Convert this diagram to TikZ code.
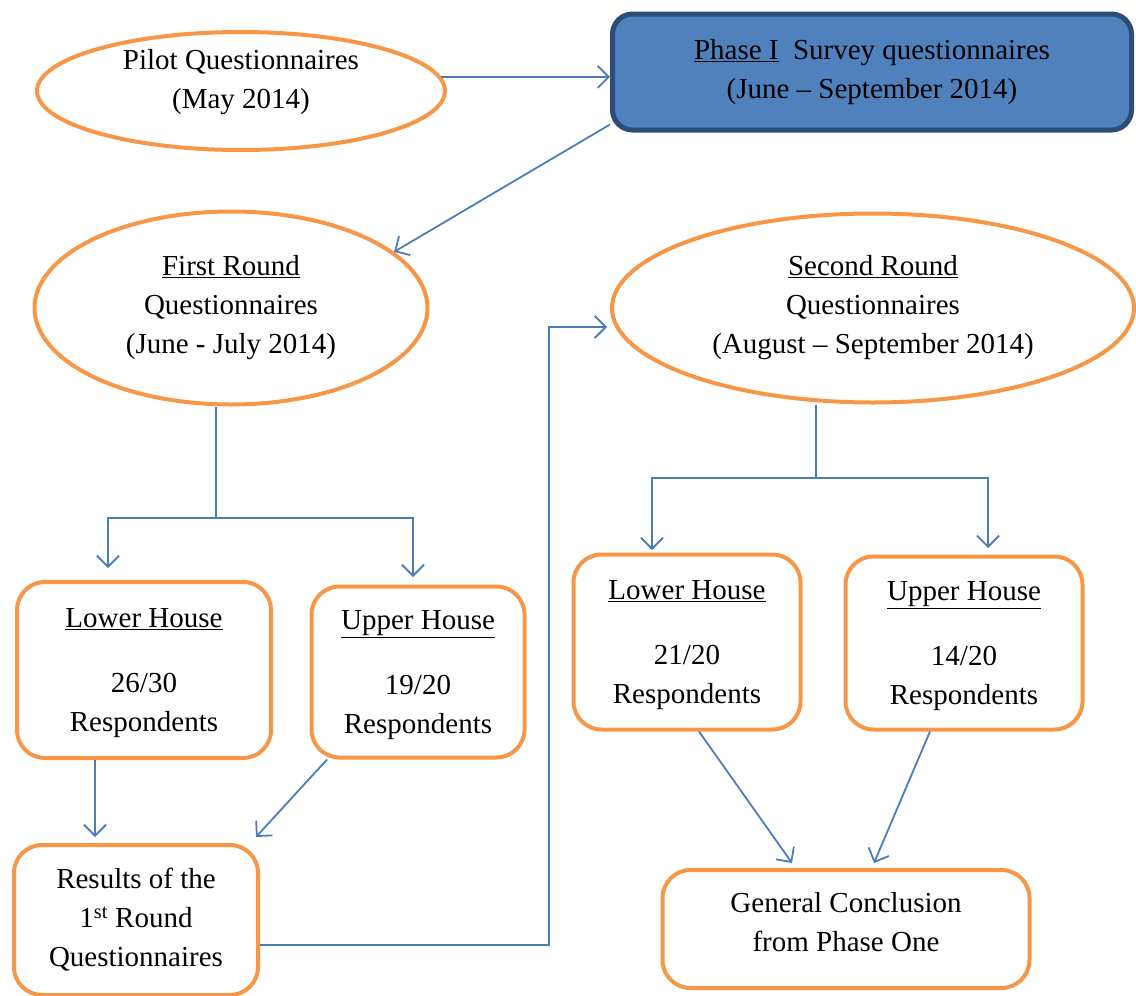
\documentclass[tikz,border=0pt]{standalone}
\usepackage{fontspec}
\setmainfont{Liberation Serif}
\usetikzlibrary{shapes.geometric}
\usetikzlibrary{arrows.meta}
\usetikzlibrary{calc}

\definecolor{boxorange}{HTML}{F79646}
\definecolor{linkblue}{HTML}{4A7EBB}
\definecolor{phasefill}{HTML}{4F81BD}
\definecolor{phaseedge}{HTML}{2C4D75}

\begin{document}
\begin{tikzpicture}[x=1pt, y=-1pt,
    txt/.style={font=\fontsize{29}{39}\selectfont, align=center, inner sep=0pt},
    oval/.style={txt, ellipse, draw=boxorange, line width=4pt},
    card/.style={txt, rectangle, rounded corners=28pt, draw=boxorange, line width=4pt},
    link/.style={draw=linkblue, line width=1.8pt},
    arr/.style={link, -{Straight Barb[length=11pt, width=22pt]}}]
  \useasboundingbox (0,0) rectangle (1136,996);

  % top row
  \node[oval, minimum width=408pt, minimum height=118pt, text depth=24pt] (pilot) at (241,91)
    {Pilot Questionnaires\\(May 2014)};
  \node[txt, rectangle, rounded corners=20pt, fill=phasefill, draw=phaseedge, line width=5pt,
    minimum width=519pt, minimum height=116pt] (phase) at (872,72)
    {\underline{Phase I}\ \ Survey questionnaires\\(June -- September 2014)};

  % the two rounds
  \node[oval, minimum width=393pt, minimum height=193pt] (first) at (231,308)
    {\underline{First Round}\\Questionnaires\\(June - July 2014)};
  \node[oval, minimum width=522pt, minimum height=189pt] (second) at (873,308)
    {\underline{Second Round}\\Questionnaires\\(August -- September 2014)};

  % houses
  \node[card, minimum width=254pt, minimum height=176pt, text depth=-1.7pt] (lh1) at (144,670)
    {\underline{Lower House}\\[26pt]26/30\\Respondents};
  \node[card, minimum width=213pt, minimum height=171pt, text depth=-5.7pt] (uh1) at (418,672)
    {\underline{Upper House}\\[26pt]19/20\\Respondents};
  \node[card, minimum width=227pt, minimum height=175pt, text depth=-5.7pt] (lh2) at (687,642)
    {\underline{Lower House}\\[26pt]21/20\\Respondents};
  \node[card, minimum width=237pt, minimum height=173pt, text depth=-3.7pt] (uh2) at (964,643)
    {\underline{Upper House}\\[26pt]14/20\\Respondents};

  % results
  \node[card, minimum width=244pt, minimum height=150pt] (res) at (136,920)
    {Results of the\\1\textsuperscript{st} Round\\Questionnaires};
  \node[card, minimum width=367pt, minimum height=118pt, text depth=14pt] (conc) at (846,929)
    {General Conclusion\\from Phase One};

  \coordinate (fsplit) at (216,518);
  \coordinate (flh) at (108,568);
  \coordinate (fuh) at (413,577);
  \coordinate (ssplit) at (816,478);
  \coordinate (slh) at (652,550);
  \coordinate (suh) at (988,548);
  \coordinate (riser) at (549,945);
  \coordinate (sin) at (607,327);

  \draw[arr] (pilot.4) -- (pilot.4 -| phase.west);
  \draw[arr] ($(phase.south west)+(0,-8)$) -- (first.19.5);

  \draw[link] (first.south -| fsplit) -- (fsplit);
  \draw[arr] (fsplit) -| (flh);
  \draw[arr] (fsplit) -| (fuh);

  \draw[arr, shorten >=6pt] ([xshift=-49pt]lh1.south) -- ([xshift=-49pt]lh1.south |- res.north);
  \draw[arr] ([xshift=-91pt]uh1.south) -- ([shift={(-4pt,6pt)}]res.north east);

  \draw[arr] ([yshift=-25pt]res.east) -- (riser) |- (sin);

  \draw[link] (second.south -| ssplit) -- (ssplit);
  \draw[arr] (ssplit) -| (slh);
  \draw[arr] (ssplit) -| (suh);

  \draw[arr] ([xshift=12pt]lh2.south) -- ([shift={(-54pt,5pt)}]conc.north);
  \draw[arr] ([xshift=-34pt]uh2.south) -- ([shift={(28pt,5pt)}]conc.north);
\end{tikzpicture}
\end{document}
